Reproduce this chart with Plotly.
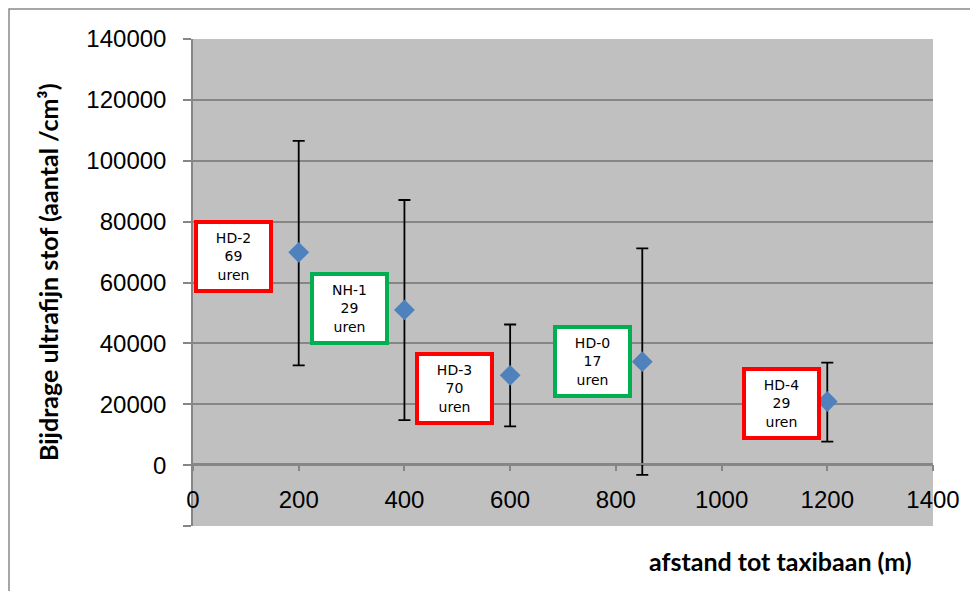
import plotly.graph_objects as go

# ---- data ----
distances = [200, 400, 600, 850, 1200]
values = [69900, 51000, 29500, 34000, 20900]
upper = [106500, 87100, 46200, 71200, 33700]
lower = [32800, 14800, 12700, -3200, 7700]

labels = ["HD-2", "NH-1", "HD-3", "HD-0", "HD-4"]
hours = [69, 29, 70, 17, 29]
label_colors = ["#FF0000", "#00B050", "#FF0000", "#00B050", "#FF0000"]
# label box centres (data coords)
label_x = [77, 297, 495, 755, 1113]
label_y = [68700, 51600, 25200, 34100, 20400]

y_ticks = [-20000, 0, 20000, 40000, 60000, 80000, 100000, 120000, 140000]
y_ticktext = ["" if v < 0 else str(v) for v in y_ticks]
x_ticks = [0, 200, 400, 600, 800, 1000, 1200, 1400]

err_plus = [u - v for u, v in zip(upper, values)]
err_minus = [v - l for v, l in zip(values, lower)]

fig = go.Figure()
fig.add_trace(go.Scatter(
    x=distances, y=values, mode="markers",
    marker=dict(symbol="diamond", size=16, color="#4F81BD"),
    error_y=dict(type="data", symmetric=False, array=err_plus, arrayminus=err_minus,
                 color="black", thickness=1.8, width=6),
    showlegend=False,
))

# page body has an 8px margin; compensate so the screenshot lines up
OFF = 8
W, H = 978, 591
L, R, T, B = 193 - OFF, 45 + OFF, 39 - OFF, 65 + OFF
pw, ph = W - L - R, H - T - B

def px_x(px):
    return (px - OFF - L) / pw

def px_y(py):
    return (H - B - (py - OFF)) / ph

annotations = []
for lab, h, c, lx, ly in zip(labels, hours, label_colors, label_x, label_y):
    annotations.append(dict(
        x=lx, y=ly, xref="x", yref="y", showarrow=False,
        text=f"{lab}<br>{h}<br>uren",
        font=dict(family="DejaVu Sans", size=14, color="black"),
        bgcolor="white", bordercolor=c, borderwidth=4, borderpad=1,
        width=69, height=63, align="center", valign="middle",
    ))

annotations.append(dict(
    x=px_x(914), y=px_y(561), xref="paper", yref="paper", showarrow=False,
    xanchor="right", yanchor="middle",
    text="<b>afstand tot taxibaan (m)</b>",
    font=dict(family="Lato", size=25, color="black"),
))
annotations.append(dict(
    x=px_x(48), y=px_y(272), xref="paper", yref="paper", showarrow=False,
    xanchor="center", yanchor="middle", textangle=-90,
    text="<b>Bijdrage ultrafijn stof (aantal /cm³)</b>",
    font=dict(family="Lato", size=25, color="black"),
))

fig.update_layout(
    width=W, height=H,
    margin=dict(l=L, r=R, t=T, b=B),
    paper_bgcolor="white",
    plot_bgcolor="#C0C0C0",
    annotations=annotations,
    shapes=[dict(type="rect", xref="paper", yref="paper",
                 x0=px_x(9), x1=px_x(977), y0=px_y(620), y1=px_y(9),
                 line=dict(color="#898989", width=1.5), layer="below")],
    xaxis=dict(
        range=[0, 1400], tickvals=x_ticks, anchor="free", position=px_y(464.3),
        showgrid=False, zeroline=False, showline=True, linecolor="#868686", linewidth=1.5,
        ticks="outside", ticklen=6, tickcolor="#868686", tickwidth=1.5,
        tickfont=dict(family="Liberation Sans", size=24, color="black"),
        ticklabelstandoff=8,
    ),
    yaxis=dict(
        range=[-20000, 140000], tickvals=y_ticks, ticktext=y_ticktext,
        showgrid=True, gridcolor="#868686", gridwidth=1.5, zeroline=False,
        showline=True, linecolor="#868686", linewidth=1.5,
        ticks="outside", ticklen=8, tickcolor="#868686", tickwidth=1.5,
        tickfont=dict(family="Liberation Sans", size=24, color="black"),
        ticklabelstandoff=12,
    ),
)

fig.write_html("out.html")
